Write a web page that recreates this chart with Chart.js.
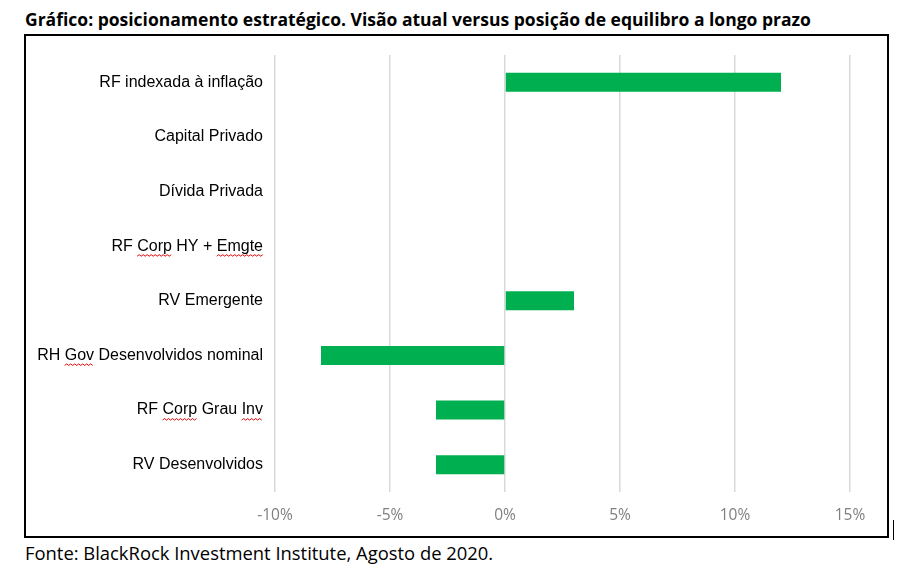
<!DOCTYPE html>
<html>
<head>
<meta charset="utf-8">
<script src="https://cdn.jsdelivr.net/npm/chart.js@4.4.0/dist/chart.umd.min.js"></script>
<style>
  body { margin: 0; background: #fff; width: 916px; height: 577px; position: relative; overflow: hidden; }
  #titulo { position: absolute; left: 25px; top: 7px; font-family: "Open Sans", sans-serif; font-weight: bold; font-size: 17.5px; color: #000; white-space: nowrap; }
  #caixa { position: absolute; left: 24px; top: 34px; width: 861px; height: 500px; border: 2px solid #000; }
  #fonte { position: absolute; left: 25px; top: 540px; font-family: "Open Sans", sans-serif; font-size: 18.4px; color: #000; white-space: nowrap; }
  #cursor { position: absolute; left: 893px; top: 520px; width: 1px; height: 20px; background: #000; }
</style>
</head>
<body>
<div id="titulo">Gráfico: posicionamento estratégico. Visão atual versus posição de equilibro a longo prazo</div>
<div id="caixa"><canvas id="grafico" width="861" height="500"></canvas></div>
<div id="fonte">Fonte: BlackRock Investment Institute, Agosto de 2020.</div>
<div id="cursor"></div>
<script>
const categorias = ['RF indexada à inflação', 'Capital Privado', 'Dívida Privada', 'RF Corp HY + Emgte',
  'RV Emergente', 'RH Gov Desenvolvidos nominal', 'RF Corp Grau Inv', 'RV Desenvolvidos']
const valores = [12, 0, 0, 0, 3, -8, -3, -3]
const ticksX = [-10, -5, 0, 5, 10, 15]

// palavras sublinhadas pelo corretor ortografico
const sublinhadas = ['Corp', 'Emgte', 'Gov', 'Inv']

const TAM_ROTULO = 16
const FONTE_ROTULO = TAM_ROTULO + 'px "Liberation Sans", Arial, sans-serif'

const ondulado = {
  id: 'ondulado',
  afterDraw(chart) {
    const ctx = chart.ctx
    const y = chart.scales.y
    const xDir = y.right - 12
    ctx.save()
    ctx.font = FONTE_ROTULO
    ctx.strokeStyle = '#e00000'
    ctx.lineWidth = 1
    categorias.forEach((cat, i) => {
      const larg = ctx.measureText(cat).width
      const ini = xDir - larg
      const yc = y.getPixelForTick(i) + 10
      sublinhadas.forEach(p => {
        const k = cat.indexOf(p)
        if (k < 0) return
        const x0 = ini + ctx.measureText(cat.slice(0, k)).width
        const x1 = x0 + ctx.measureText(p).width
        ctx.beginPath()
        let sobe = true
        ctx.moveTo(x0, yc)
        for (let x = x0 + 2; x <= x1 + 0.5; x += 2) {
          ctx.lineTo(x, sobe ? yc - 1.5 : yc)
          sobe = !sobe
        }
        ctx.stroke()
      })
    })
    ctx.restore()
  }
}

new Chart(document.getElementById('grafico'), {
  type: 'bar',
  data: {
    labels: categorias,
    datasets: [{
      data: valores,
      backgroundColor: '#00b050',
      borderWidth: 0,
      categoryPercentage: 1,
      barPercentage: 0.35
    }]
  },
  plugins: [ondulado],
  options: {
    indexAxis: 'y',
    responsive: false,
    animation: false,
    layout: { padding: { top: 19, right: 37, bottom: 0, left: 0 } },
    plugins: { legend: { display: false }, tooltip: { enabled: false } },
    scales: {
      x: {
        min: -10, max: 15,
        afterBuildTicks: axis => { axis.ticks = ticksX.map(v => ({ value: v })) },
        afterFit: axis => { axis.height = 44 },
        grid: { color: '#d9d9d9', lineWidth: 1.5, drawTicks: false },
        border: { display: false },
        ticks: {
          padding: 14,
          color: '#7f7f7f',
          font: { family: '"Open Sans", sans-serif', size: 15.5 },
          callback: v => v + '%'
        }
      },
      y: {
        afterFit: axis => { axis.width = 249 },
        grid: { display: false },
        border: { display: false },
        ticks: {
          padding: 4,
          color: '#000',
          font: { family: '"Liberation Sans", Arial, sans-serif', size: TAM_ROTULO }
        }
      }
    }
  }
})
</script>
</body>
</html>
